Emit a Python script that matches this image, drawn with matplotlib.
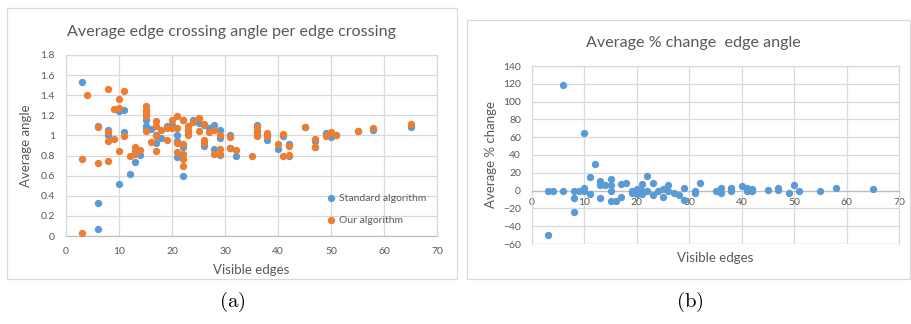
"""Two Excel-style scatter panels: edge crossing angle and % change."""
import matplotlib
matplotlib.use("Agg")
import matplotlib.pyplot as plt
from matplotlib.patches import Rectangle

plt.rcParams["font.family"] = ["Lato", "DejaVu Sans"]
plt.rcParams["mathtext.fontset"] = "cm"

BLUE = "#5B9BD5"
ORANGE = "#ED7D31"
TEXT = "#595959"
GRID = "#D9D9D9"

# panel (a): standard algorithm
std_edges = [3, 6, 6, 6, 8, 8, 10, 10, 11, 11, 12, 13, 13, 14, 15, 15, 15, 16,
             17, 17, 18, 19, 20, 21, 21, 21, 22, 22, 22, 23, 24, 25, 26, 26, 27,
             28, 28, 29, 29, 29, 31, 31, 32, 36, 36, 38, 38, 40, 41, 42, 42, 45,
             47, 47, 49, 50, 51, 55, 58, 65]
std_angle = [1.53, 1.09, 0.33, 0.07, 1.05, 1.00, 1.24, 0.52, 1.25, 1.03, 0.62,
             0.74, 0.85, 0.81, 1.15, 1.09, 1.07, 1.06, 0.92, 1.00, 0.97, 1.09,
             1.10, 1.00, 0.79, 0.94, 0.60, 0.89, 1.15, 1.02, 1.15, 1.12, 1.10,
             0.90, 1.07, 1.10, 0.87, 1.05, 0.97, 0.81, 1.00, 0.88, 0.80, 1.10,
             1.02, 1.01, 0.95, 0.87, 0.99, 0.91, 0.80, 1.08, 0.94, 0.89, 1.02,
             0.98, 1.00, 1.04, 1.05, 1.08]

# panel (a): our algorithm
our_edges = [3, 3, 4, 6, 6, 8, 8, 8, 8, 9, 9, 10, 10, 10, 11, 11, 12, 13, 13, 14,
             15, 15, 15, 15, 15, 16, 17, 17, 17, 17, 18, 19, 19, 20, 20, 21, 21,
             21, 21, 22, 22, 22, 22, 22, 23, 23, 23, 24, 25, 25, 26, 26, 26, 27,
             28, 28, 29, 29, 29, 31, 31, 32, 35, 36, 36, 36, 38, 38, 40, 41, 41,
             42, 42, 45, 47, 47, 49, 50, 51, 55, 58, 65]
our_angle = [0.03, 0.77, 1.40, 1.08, 0.73, 1.46, 1.03, 0.94, 0.75, 1.26, 0.96,
             1.36, 1.27, 0.85, 1.44, 0.99, 0.80, 0.89, 0.82, 0.86, 1.29, 1.25,
             1.22, 1.19, 1.04, 0.93, 1.14, 1.09, 0.99, 0.85, 1.05, 1.07, 0.95,
             1.15, 1.07, 1.19, 1.07, 0.92, 0.84, 1.15, 0.91, 0.82, 0.77, 0.70,
             1.09, 1.05, 1.00, 1.13, 1.17, 1.04, 1.11, 0.95, 0.92, 1.03, 1.05,
             0.82, 1.00, 0.87, 0.82, 0.98, 0.88, 0.86, 0.80, 1.08, 1.04, 0.99,
             0.99, 1.02, 0.91, 1.01, 0.80, 0.90, 0.81, 1.08, 0.96, 0.89, 0.99,
             1.03, 1.00, 1.04, 1.07, 1.11]

# panel (b): average % change
chg_edges = [3, 3, 4, 6, 6, 8, 8, 8, 9, 10, 10, 10, 11, 11, 12, 13, 13, 13, 14,
             15, 15, 15, 15, 16, 17, 17, 18, 19, 19, 20, 20, 21, 21, 21, 22, 22,
             23, 23, 24, 25, 25, 26, 26, 27, 28, 29, 29, 31, 31, 32, 35, 36, 36,
             38, 38, 40, 41, 41, 42, 42, 45, 47, 47, 49, 50, 51, 55, 58, 65]
chg_pct = [0, -50, 0, 118.6, -1, 0, -8, -24, 0, 65, 3, 0, 15, -4, 30, 11, 6, -8,
           6, 13, 6, 0, -12, -12, 7, -7, 8, 0, -3, 2, -4, 7, -1, -4, 16, 0, 8,
           -5, 0, 2, -7, 6, 0, -3, -5, 3, -10, 0, -3, 8, -1, 3, -3, 3, -1, 5, 3,
           0, 2, -1, 1, 3, 1, -3, 6, -1, 0, 3, 2]

W, H = 911, 324


def px_box(x0, y0, x1, y1):
    """Pixel box (top-left origin) -> figure fraction rect."""
    return [x0 / W, (H - y1) / H, (x1 - x0) / W, (y1 - y0) / H]


def style_axes(ax):
    for side in ("left", "right", "top", "bottom"):
        ax.spines[side].set_color(GRID)
        ax.spines[side].set_linewidth(0.9)
    ax.grid(True, color=GRID, linewidth=0.9, zorder=0)
    ax.set_axisbelow(True)
    ax.tick_params(length=0, colors=TEXT, labelsize=7.5, pad=8)


fig = plt.figure(figsize=(W / 100, H / 100), dpi=100)

# chart frames
for x0, y0, x1, y1 in [(7, 8, 457, 279), (467, 20, 910, 279)]:
    fig.patches.append(Rectangle((x0 / W, (H - y1) / H), (x1 - x0) / W,
                                 (y1 - y0) / H, transform=fig.transFigure,
                                 fill=False, edgecolor=GRID, linewidth=0.9))

# (a)
ax1 = fig.add_axes(px_box(66, 55, 437, 236))
style_axes(ax1)
ax1.spines["bottom"].set_color("#BFBFBF")
ax1.scatter(std_edges, std_angle, s=28, color=BLUE, zorder=3,
            label="Standard algorithm", linewidths=0)
ax1.scatter(our_edges, our_angle, s=28, color=ORANGE, zorder=4,
            label="Our algorithm", linewidths=0)
ax1.set_xlim(0, 70)
ax1.set_ylim(0, 1.8)
ax1.set_xticks(range(0, 71, 10))
ax1.set_yticks([i * 0.2 for i in range(10)])
ax1.set_yticklabels(["0", "0.2", "0.4", "0.6", "0.8", "1", "1.2", "1.4",
                     "1.6", "1.8"])
ax1.set_xlabel("Visible edges", color=TEXT, fontsize=9.5, labelpad=6)
ax1.set_ylabel("Average angle", color=TEXT, fontsize=9.5, labelpad=6)
ax1.set_title("Average edge crossing angle per edge crossing", color=TEXT,
              fontsize=11.6, pad=14, x=0.447)
leg = ax1.legend(loc="lower left", bbox_to_anchor=(0.675, 0.04), frameon=False,
                 fontsize=7.5, handletextpad=-0.2, labelspacing=1.2,
                 borderaxespad=0, scatterpoints=1)
for t in leg.get_texts():
    t.set_color(TEXT)

# (b)
ax2 = fig.add_axes(px_box(532, 66, 899, 244))
style_axes(ax2)
ax2.scatter(chg_edges, chg_pct, s=28, color=BLUE, zorder=3, linewidths=0)
ax2.set_xlim(0, 70)
ax2.set_ylim(-60, 140)
ax2.set_xticks(range(0, 71, 10))
ax2.set_yticks(range(-60, 141, 20))
ax2.spines["bottom"].set_position(("data", 0))
ax2.spines["bottom"].set_color("#BFBFBF")
ax2.axhline(-60, color=GRID, linewidth=0.9, zorder=0)
ax2.tick_params(axis="x", pad=5)
ax2.set_xlabel("Visible edges", color=TEXT, fontsize=9.5)
ax2.xaxis.set_label_coords(0.5, -0.045)
ax2.set_ylabel("Average % change", color=TEXT, fontsize=9.5, labelpad=4)
ax2.set_title("Average % change  edge angle", color=TEXT, fontsize=11.6,
              pad=14, x=0.439)

fig.text(232 / W, 1 - 302 / H, r"$\mathrm{(a)}$", ha="center", va="center",
         fontsize=15)
fig.text(690 / W, 1 - 302 / H, r"$\mathrm{(b)}$", ha="center", va="center",
         fontsize=15)

fig.savefig("out.png", dpi=100)
